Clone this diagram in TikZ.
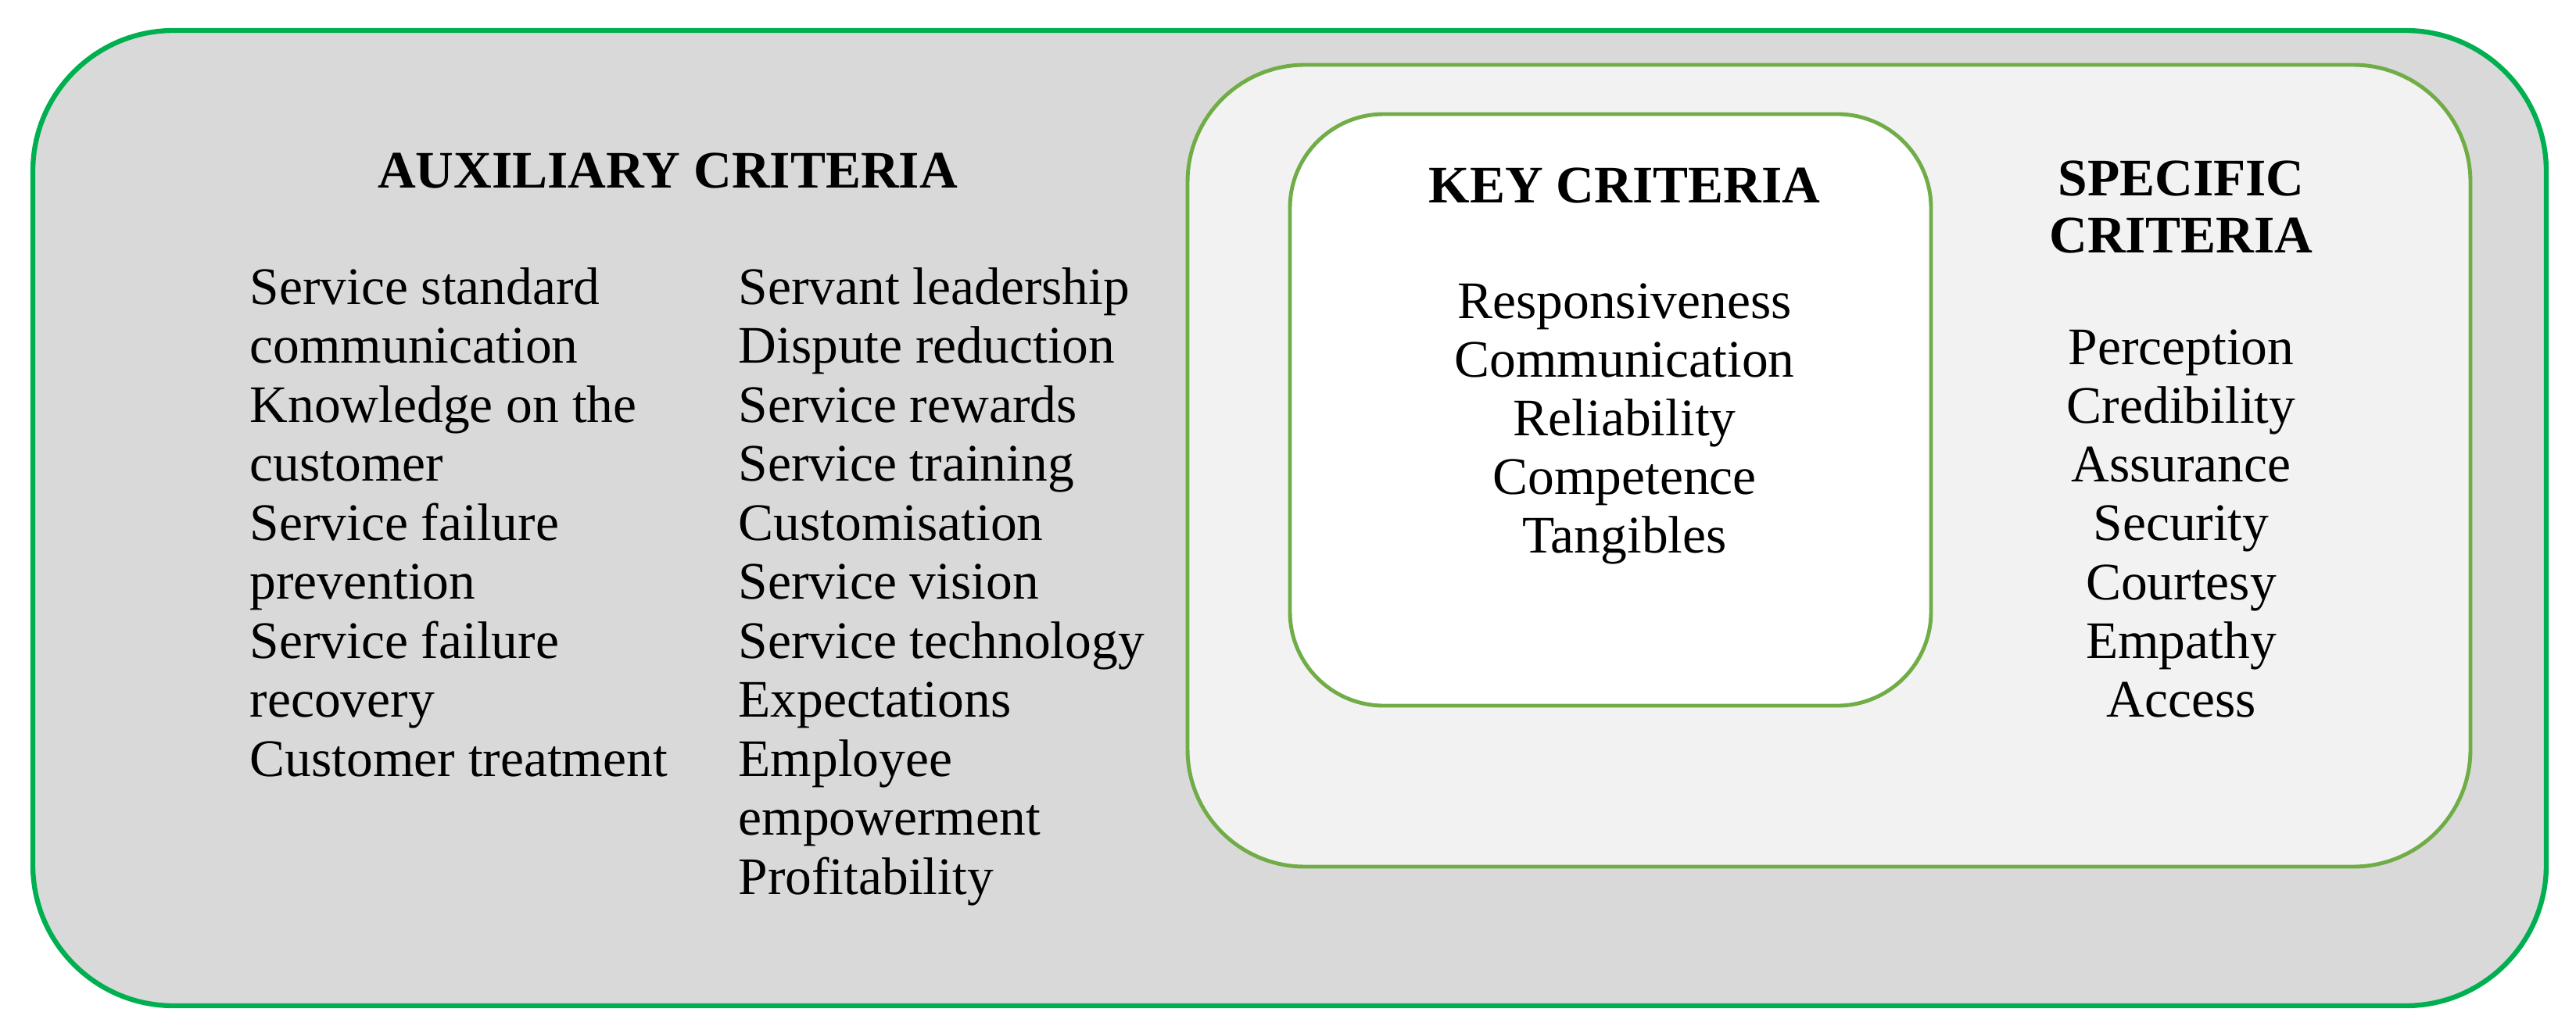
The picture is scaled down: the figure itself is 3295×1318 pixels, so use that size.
\documentclass[tikz,border=0pt]{standalone}
\usepackage{fontspec}
\setmainfont{Liberation Serif}
\usepackage{tikz}

\definecolor{outergreen}{HTML}{00B050}
\definecolor{innergreen}{HTML}{70AD47}
\definecolor{outerfill}{HTML}{D9D9D9}
\definecolor{innerfill}{HTML}{F2F2F2}

\begin{document}
\begin{tikzpicture}[x=0.1mm, y=-0.1mm,
        box/.style={rounded corners=#1, inner sep=0pt},
        item/.style={inner sep=0pt, font=\fontsize{19.2}{21.5}\selectfont},
        head/.style={item, font=\fontsize{19.2}{21.5}\selectfont\bfseries}]
        % Размеры листа
        \useasboundingbox (0,0) rectangle (3295,1318);
        % Шаг строк
        \def\linestep{75.5}

        % Рамки
        \node[box=18mm, draw=outergreen, line width=1.8pt, fill=outerfill,
            minimum width=32.15cm, minimum height=12.48cm] (outer) at (1649.5,663) {};
        \node[box=15mm, draw=innergreen, line width=1.4pt, fill=innerfill,
            minimum width=16.41cm, minimum height=10.26cm] (middle) at (2339.5,596) {};
        \node[box=12mm, draw=innergreen, line width=1.4pt, fill=white,
            minimum width=8.2cm, minimum height=7.57cm] (key) at (2060,524.5) {};

        % Заголовки
        \node[head, anchor=base] (auxhead) at (854,240) {AUXILIARY CRITERIA};
        \node[head, anchor=base] (keyhead) at (2078,259) {KEY CRITERIA};
        \node[head, anchor=base] (spechead) at (2790,250) {SPECIFIC};
        \node[head, anchor=base] (spechead2) at (2790,323) {CRITERIA};

        % Вспомогательные критерии, левый столбец
        \foreach \txt [count=\i] in {
            Service standard, communication, Knowledge on the, customer,
            Service failure, prevention, Service failure, recovery,
            Customer treatment}
        {
            \node[item, anchor=base west] (auxa-\i) at (319,{389+\linestep*(\i-1)}) {\txt};
        }

        % Вспомогательные критерии, правый столбец
        \foreach \txt [count=\i] in {
            Servant leadership, Dispute reduction, Service rewards,
            Service training, Customisation, Service vision,
            Service technology, Expectations, Employee, empowerment,
            Profitability}
        {
            \node[item, anchor=base west] (auxb-\i) at (944,{389+\linestep*(\i-1)}) {\txt};
        }

        % Ключевые критерии
        \foreach \txt [count=\i] in {
            Responsiveness, Communication, Reliability, Competence, Tangibles}
        {
            \node[item, anchor=base] (keyitem-\i) at (2078,{407+75*(\i-1)}) {\txt};
        }

        % Специфические критерии
        \foreach \txt [count=\i] in {
            Perception, Credibility, Assurance, Security, Courtesy,
            Empathy, Access}
        {
            \node[item, anchor=base] (specitem-\i) at (2790,{466+75.3*(\i-1)}) {\txt};
        }
    \end{tikzpicture}
\end{document}
